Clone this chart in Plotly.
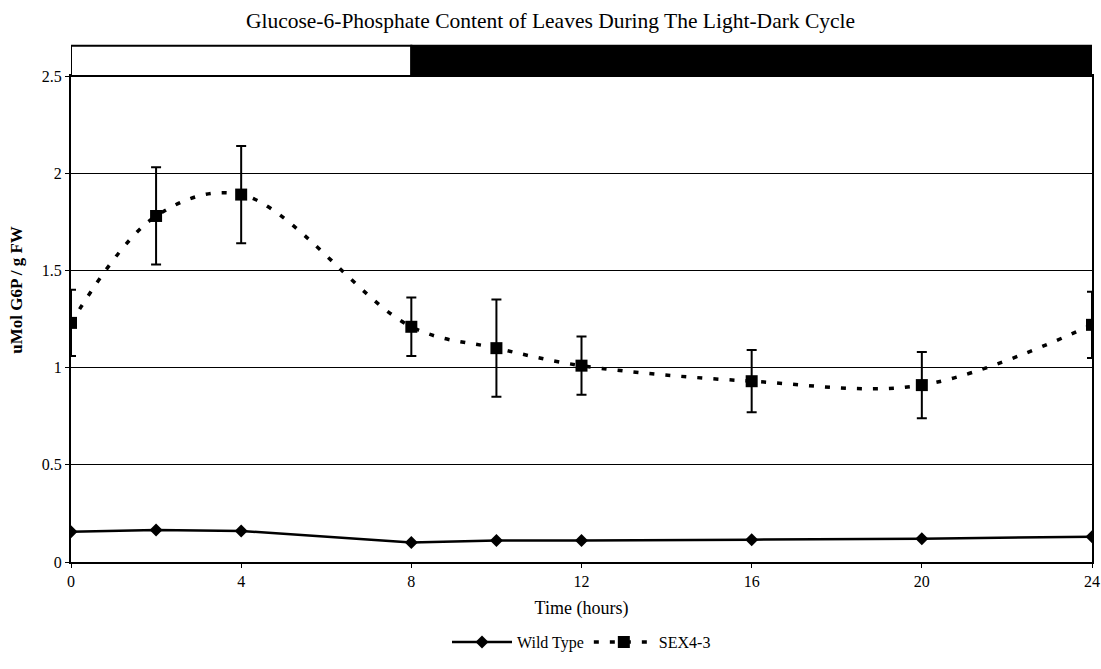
import plotly.graph_objects as go

# Sampling times (hours) and G6P content (uMol / g FW)
hours = [0, 2, 4, 8, 10, 12, 16, 20, 24]
wild_type = [0.155, 0.165, 0.16, 0.10, 0.11, 0.11, 0.115, 0.12, 0.13]
sex4_3 = [1.23, 1.78, 1.89, 1.21, 1.10, 1.01, 0.93, 0.91, 1.22]
sex4_3_err = [0.17, 0.25, 0.25, 0.15, 0.25, 0.15, 0.16, 0.17, 0.17]

# Light / dark periods shown above the plot
light_period = (0, 8)
dark_period = (8, 24)

x_ticks = [0, 4, 8, 12, 16, 20, 24]
y_ticks = [0, 0.5, 1, 1.5, 2, 2.5]

serif = "Liberation Serif, Times New Roman, serif"

fig = go.Figure()

fig.add_trace(go.Scatter(
    x=hours, y=wild_type, name="Wild Type",
    mode="lines+markers",
    line=dict(color="black", width=2.5),
    marker=dict(symbol="diamond", size=10, color="black"),
))

fig.add_trace(go.Scatter(
    x=hours, y=sex4_3, name="SEX4-3",
    mode="lines+markers",
    line=dict(color="black", width=3.5, dash="5px,11px", shape="spline", smoothing=1.0),
    marker=dict(symbol="square", size=12, color="black"),
    error_y=dict(type="data", array=sex4_3_err, visible=True,
                 color="black", thickness=2, width=5),
))

# Light (white) and dark (black) bars
fig.add_shape(type="rect", xref="x", yref="paper",
              x0=light_period[0], x1=light_period[1], y0=1.0, y1=1.062,
              fillcolor="white", line=dict(color="black", width=2))
fig.add_shape(type="rect", xref="x", yref="paper",
              x0=dark_period[0], x1=dark_period[1], y0=1.0, y1=1.062,
              fillcolor="black", line=dict(color="black", width=2))

# Y-axis title, placed by hand
fig.add_annotation(text="<b>uMol G6P / g FW</b>", xref="paper", yref="paper",
                   x=-0.053, y=0.56, xanchor="center", yanchor="middle",
                   textangle=-90, showarrow=False,
                   font=dict(family=serif, size=17, color="black"))

fig.update_layout(
    width=1101, height=669,
    margin=dict(l=71, r=9, t=76, b=107, autoexpand=False),
    paper_bgcolor="white", plot_bgcolor="white",
    font=dict(family=serif, size=15, color="black"),
    title=dict(text="Glucose-6-Phosphate Content of Leaves During The Light-Dark Cycle",
               x=0.5, xanchor="center", y=0.97, yanchor="middle",
               font=dict(family=serif, size=21.5, color="black")),
    showlegend=True,
    legend=dict(orientation="h", x=0.5, xanchor="center", y=-0.165, yanchor="middle",
                font=dict(family=serif, size=16, color="black"),
                itemwidth=60, bgcolor="rgba(0,0,0,0)"),
)

fig.update_xaxes(
    range=[0, 24], tickvals=x_ticks, ticktext=[str(v) for v in x_ticks],
    showline=True, linecolor="black", linewidth=2, mirror=True,
    showgrid=False, zeroline=False, automargin=False,
    ticks="outside", ticklen=4, tickcolor="black",
    title=dict(text="Time (hours)", font=dict(family=serif, size=18, color="black"), standoff=12),
    tickfont=dict(family=serif, size=16, color="black"),
)
fig.update_yaxes(
    range=[0, 2.5], tickvals=y_ticks, ticktext=["0", "0.5", "1", "1.5", "2", "2.5"],
    showline=True, linecolor="black", linewidth=2, mirror=True,
    showgrid=True, gridcolor="black", gridwidth=1.2, zeroline=False, automargin=False,
    ticks="outside", ticklen=4, tickcolor="black",
    tickfont=dict(family=serif, size=16, color="black"),
)

fig.write_html("out.html")
